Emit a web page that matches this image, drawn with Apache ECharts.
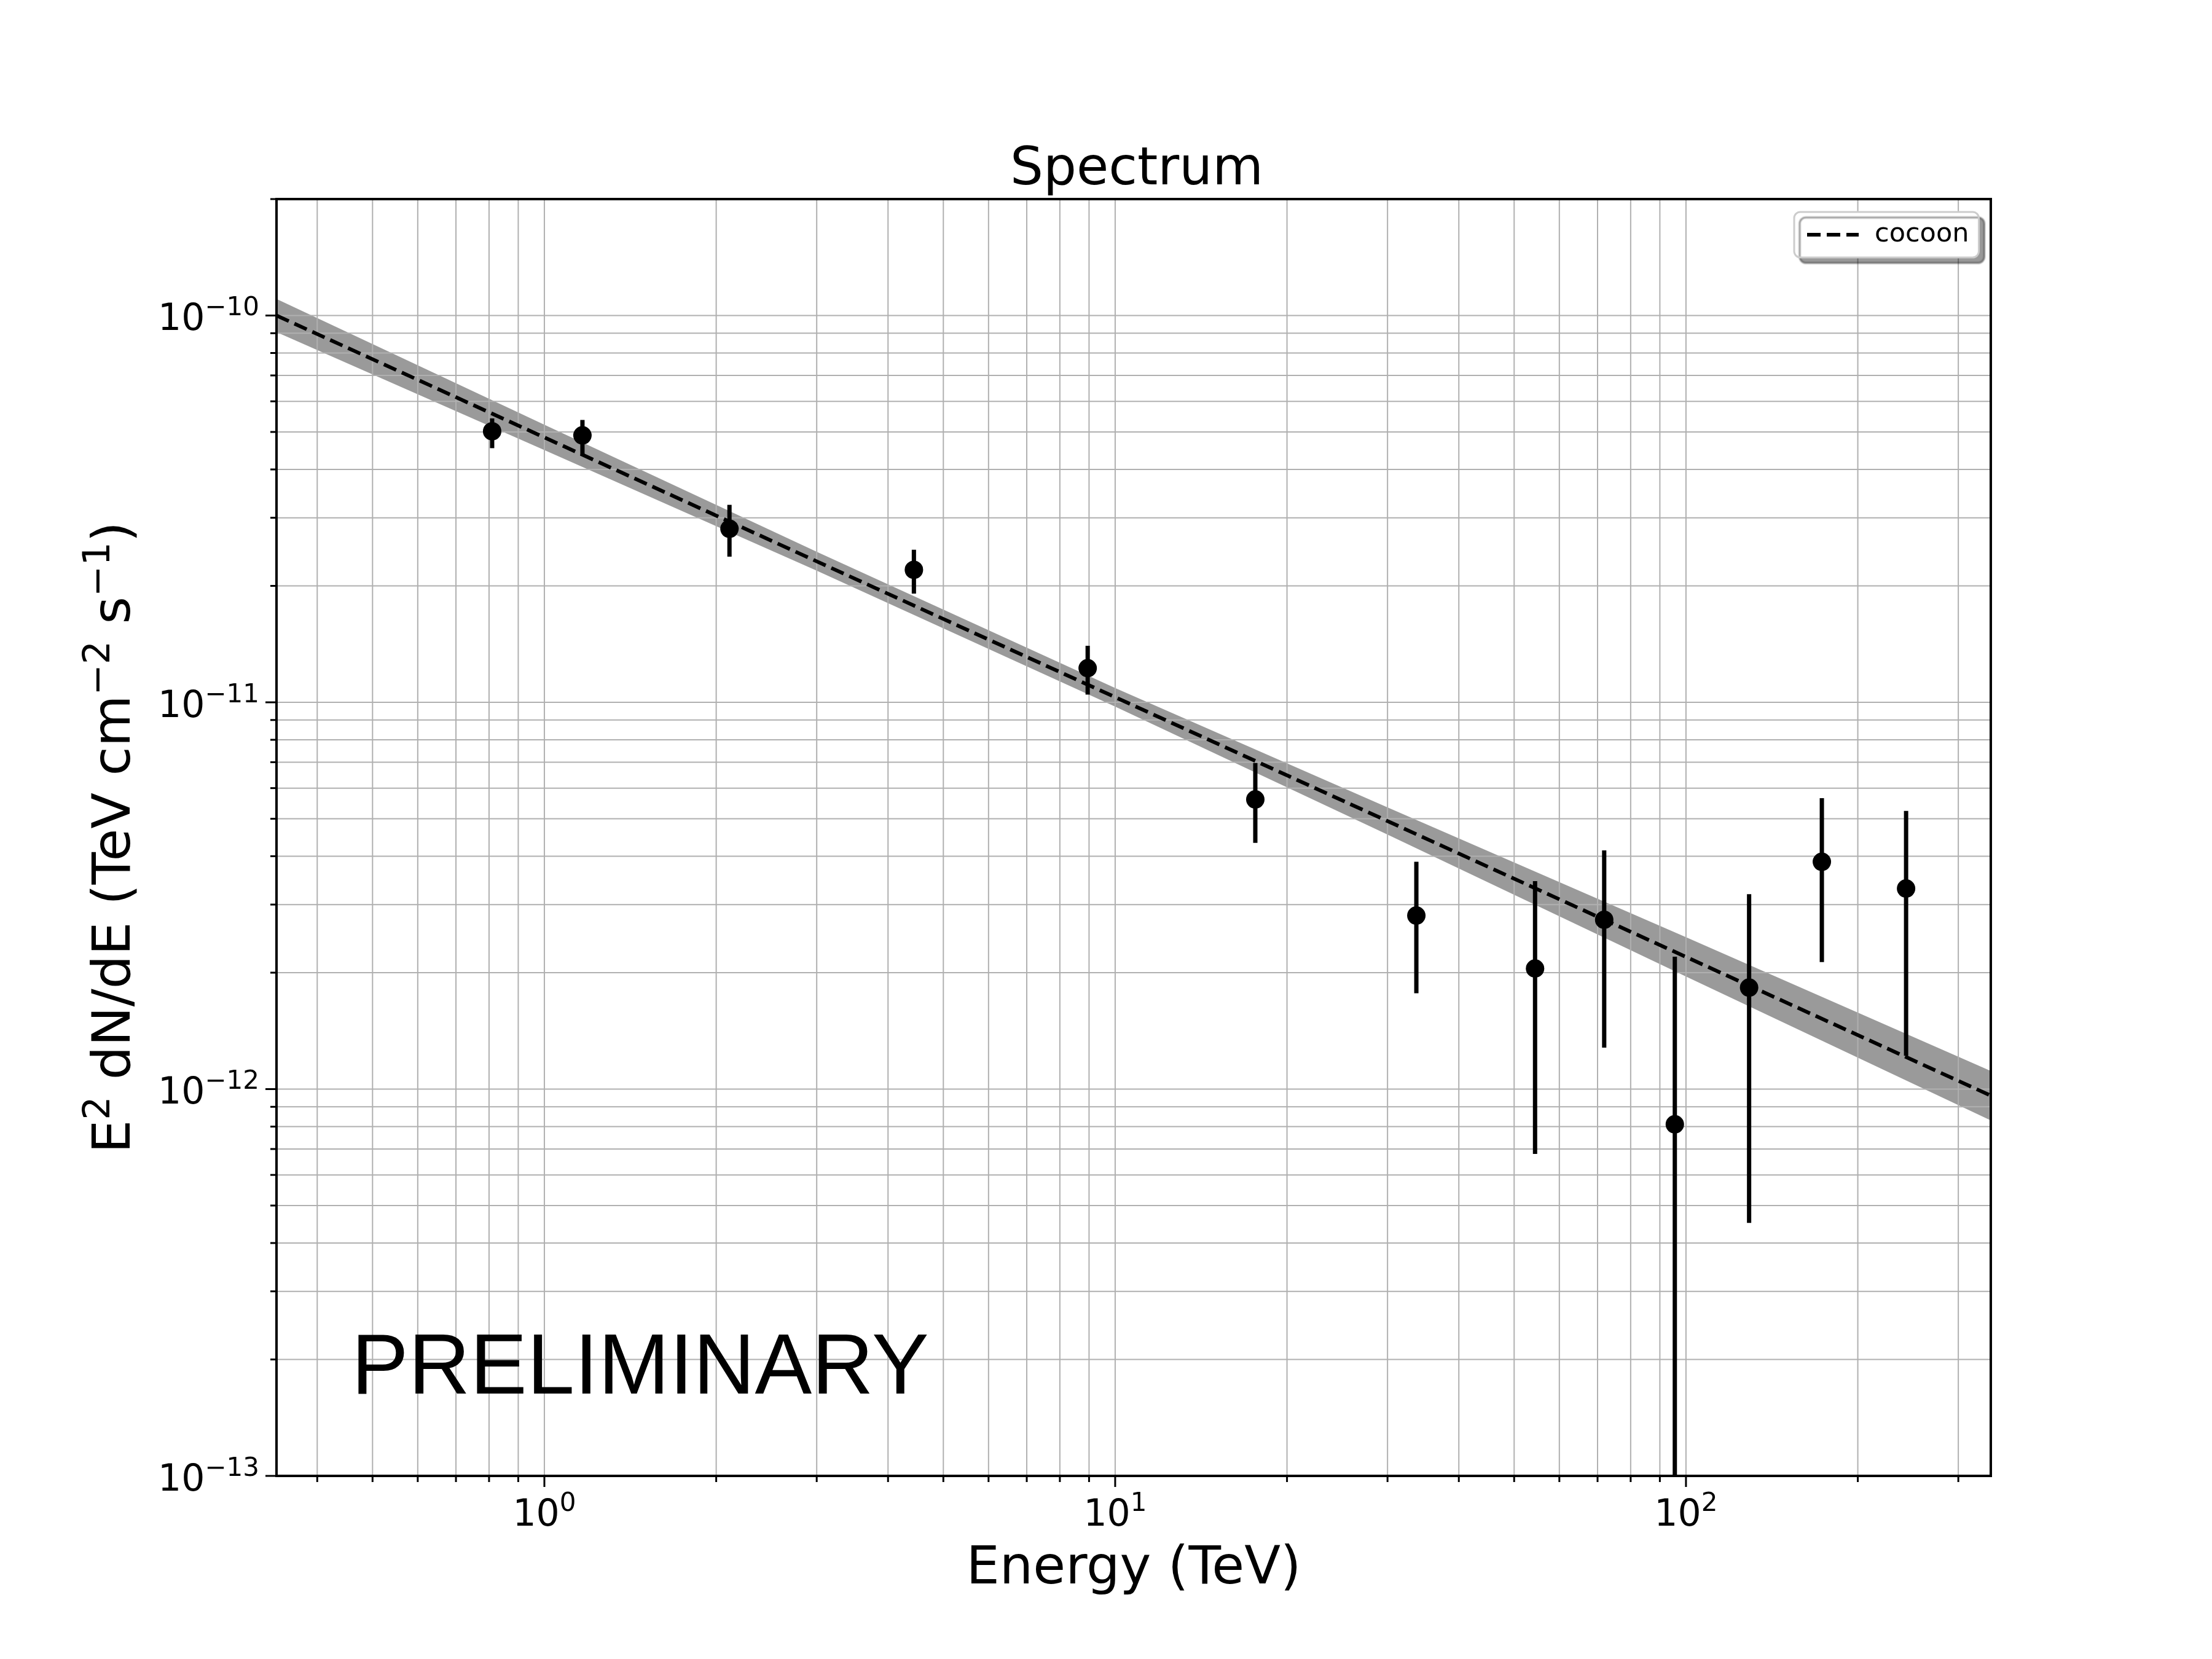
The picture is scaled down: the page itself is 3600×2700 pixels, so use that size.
<!DOCTYPE html>
<html><head><meta charset="utf-8">
<script src="https://cdn.jsdelivr.net/npm/echarts@6.0.0/dist/echarts.min.js"></script>
<style>html,body{margin:0;padding:0;background:#fff}#c{width:3600px;height:2700px}</style>
</head><body><div id="c"></div>
<script>
// ---- data ----
const energy   = [0.81, 1.166, 2.11, 4.44, 8.95, 17.6, 33.7, 54.4, 71.9, 95.6, 129, 173, 243];
const flux     = [5.02e-11, 4.90e-11, 2.81e-11, 2.20e-11, 1.225e-11, 5.61e-12, 2.81e-12, 2.05e-12, 2.74e-12, 8.11e-13, 1.83e-12, 3.87e-12, 3.30e-12];
const fluxLow  = [4.54e-11, 4.35e-11, 2.38e-11, 1.91e-11, 1.047e-11, 4.33e-12, 1.77e-12, 6.8e-13, 1.28e-12, 5e-14, 4.51e-13, 2.13e-12, 1.22e-12];
const fluxHigh = [5.42e-11, 5.37e-11, 3.24e-11, 2.48e-11, 1.40e-11, 6.97e-12, 3.87e-12, 3.45e-12, 4.14e-12, 2.20e-12, 3.19e-12, 5.65e-12, 5.24e-12];
const modelEnergy = [0.3394, 342];
const modelFlux   = [1.0e-10, 9.62e-13];
const bandEnergy = [0.3394, 1, 3, 10, 30, 100, 342];
const bandUpper  = [1.104e-10, 5.22e-11, 2.45e-11, 1.089e-11, 5.35e-12, 2.47e-12, 1.114e-12];
const bandLower  = [9.06e-11, 4.49e-11, 2.19e-11, 9.75e-12, 4.55e-12, 1.954e-12, 8.30e-13];
const xRange = [0.3394, 342];
const yRange = [1e-13, 2e-10];
const xMajorTicks = [1, 10, 100];
const xMinorTicks = [0.4, 0.5, 0.6, 0.7, 0.8, 0.9, 2, 3, 4, 5, 6, 7, 8, 9, 20, 30, 40, 50, 60, 70, 80, 90, 200, 300];
const yMajorTicks = [1e-13, 1e-12, 1e-11, 1e-10];
const yMinorTicks = [2e-13, 3e-13, 4e-13, 5e-13, 6e-13, 7e-13, 8e-13, 9e-13,
                     2e-12, 3e-12, 4e-12, 5e-12, 6e-12, 7e-12, 8e-12, 9e-12,
                     2e-11, 3e-11, 4e-11, 5e-11, 6e-11, 7e-11, 8e-11, 9e-11, 2e-10];

const FONT = 'DejaVu Sans';
function lineEl(p1, p2, style) {
  return {type: 'line', shape: {x1: p1[0], y1: p1[1], x2: p2[0], y2: p2[1]}, style: style};
}
function expLabel(v) {
  const e = Math.round(Math.log10(v));
  const s = e < 0 ? '\u2212' + (-e) : String(e);
  return '{b|10}{s|' + s + '}';
}
const tickRich = {
  b: {fontSize: 60, lineHeight: 80, fontFamily: FONT, color: '#000'},
  s: {fontSize: 42, lineHeight: 42, fontFamily: FONT, color: '#000', padding: [0, 0, 38, 0]}
};

const chart = echarts.init(document.getElementById('c'), null, {renderer: 'canvas'});
chart.setOption({
  animation: false,
  backgroundColor: '#fff',
  title: {
    text: 'Spectrum', left: 1845, top: 230, textAlign: 'center',
    textStyle: {fontSize: 85, fontWeight: 'normal', fontFamily: FONT, color: '#000'}
  },
  legend: {
    data: ['cocoon'], left: 2920, top: 345, orient: 'vertical',
    padding: [12, 16, 12, 18], itemWidth: 84, itemHeight: 20,
    backgroundColor: '#fff', borderColor: '#cccccc', borderWidth: 3, borderRadius: 10,
    shadowColor: 'rgba(0,0,0,0.4)', shadowBlur: 2, shadowOffsetX: 9, shadowOffsetY: 9,
    itemStyle: {color: 'rgba(0,0,0,0)', borderWidth: 0, opacity: 0},
    lineStyle: {color: '#000', width: 6, type: [22, 10], opacity: 1},
    textStyle: {fontSize: 43, fontFamily: FONT, color: '#000', padding: [0, 0, 0, 21], lineHeight: 50}
  },
  grid: {left: 450, right: 360, top: 324, bottom: 298, containLabel: false},
  xAxis: {
    type: 'log', logBase: 10, min: xRange[0], max: xRange[1],
    name: 'Energy (TeV)', nameLocation: 'middle', nameGap: 105,
    nameTextStyle: {fontSize: 86, fontFamily: FONT, color: '#000'},
    axisLine: {show: false}, axisTick: {show: false}, splitLine: {show: false},
    axisLabel: {showMinLabel: false, showMaxLabel: false, margin: 25, formatter: expLabel, rich: tickRich}
  },
  yAxis: {
    type: 'log', logBase: 10, min: yRange[0], max: yRange[1],
    name: '{b|E}{s|2}{b| dN/dE (TeV cm}{s|\u22122}{b| s}{s|\u22121}{b|)}',
    nameLocation: 'middle', nameGap: 200, nameRotate: 90,
    nameTextStyle: {
      fontSize: 86, fontFamily: FONT, color: '#000',
      rich: {
        b: {fontSize: 86, lineHeight: 114, fontFamily: FONT, color: '#000'},
        s: {fontSize: 60, lineHeight: 60, fontFamily: FONT, color: '#000', padding: [0, 0, 54, 0]}
      }
    },
    axisLine: {show: false}, axisTick: {show: false}, splitLine: {show: false},
    axisLabel: {showMinLabel: true, showMaxLabel: false, margin: 28, padding: [16, 0, 0, 0], formatter: expLabel, rich: tickRich}
  },
  graphic: [{
    type: 'text', left: 572, top: 2160, z: 100,
    style: {text: 'PRELIMINARY', fontSize: 139, fontFamily: 'Liberation Sans', fill: '#000'}
  }],
  series: [
    { // uncertainty band
      type: 'custom', name: 'band', z: 1, clip: true, silent: true,
      data: bandEnergy.map((e, i) => [e, bandLower[i], bandUpper[i]]),
      renderItem: function (params, api) {
        if (params.dataIndex !== 0) return;
        const pts = [];
        for (let i = 0; i < bandEnergy.length; i++) pts.push(api.coord([bandEnergy[i], bandUpper[i]]));
        for (let i = bandEnergy.length - 1; i >= 0; i--) pts.push(api.coord([bandEnergy[i], bandLower[i]]));
        return {type: 'polygon', shape: {points: pts}, style: {fill: '#9a9a9a'}};
      }
    },
    { // grid lines
      type: 'custom', name: 'gridlines', z: 2, silent: true,
      data: [[xRange[0], yRange[0]]],
      renderItem: function (params, api) {
        const st = {stroke: '#b0b0b0', lineWidth: 2};
        const ch = [];
        xMajorTicks.concat(xMinorTicks).forEach(v => ch.push(lineEl(api.coord([v, yRange[0]]), api.coord([v, yRange[1]]), st)));
        yMajorTicks.concat(yMinorTicks).forEach(v => ch.push(lineEl(api.coord([xRange[0], v]), api.coord([xRange[1], v]), st)));
        return {type: 'group', children: ch};
      }
    },
    {
      type: 'line', name: 'cocoon', z: 3, symbol: 'none', showSymbol: false, clip: true,
      data: modelEnergy.map((e, i) => [e, modelFlux[i]]),
      lineStyle: {color: '#000', width: 6, type: [22, 10]},
      itemStyle: {color: '#000'}
    },
    { // error bars
      type: 'custom', name: 'errors', z: 4, clip: true, silent: true,
      data: energy.map((e, i) => [e, fluxLow[i], fluxHigh[i]]),
      renderItem: function (params, api) {
        const p1 = api.coord([api.value(0), api.value(1)]);
        const p2 = api.coord([api.value(0), api.value(2)]);
        return lineEl(p1, p2, {stroke: '#000', lineWidth: 7});
      }
    },
    {
      type: 'scatter', name: 'points', z: 5, symbol: 'circle', symbolSize: 30,
      data: energy.map((e, i) => [e, flux[i]]),
      itemStyle: {color: '#000', opacity: 1}
    },
    { // frame + ticks
      type: 'custom', name: 'frame', z: 10, silent: true,
      data: [[xRange[0], yRange[0]]],
      renderItem: function (params, api) {
        const ch = [];
        const tl = api.coord([xRange[0], yRange[1]]);
        const br = api.coord([xRange[1], yRange[0]]);
        const tk = {stroke: '#000', lineWidth: 3};
        xMajorTicks.forEach(v => { const p = api.coord([v, yRange[0]]); ch.push(lineEl(p, [p[0], p[1] + 18], tk)); });
        xMinorTicks.forEach(v => { const p = api.coord([v, yRange[0]]); ch.push(lineEl(p, [p[0], p[1] + 10], tk)); });
        yMajorTicks.forEach(v => { const p = api.coord([xRange[0], v]); ch.push(lineEl(p, [p[0] - 18, p[1]], tk)); });
        yMinorTicks.forEach(v => { const p = api.coord([xRange[0], v]); ch.push(lineEl(p, [p[0] - 10, p[1]], tk)); });
        ch.push({type: 'rect', shape: {x: tl[0], y: tl[1], width: br[0] - tl[0], height: br[1] - tl[1]},
                 style: {fill: 'none', stroke: '#000', lineWidth: 4}});
        return {type: 'group', children: ch};
      }
    }
  ]
});
</script>
</body></html>
